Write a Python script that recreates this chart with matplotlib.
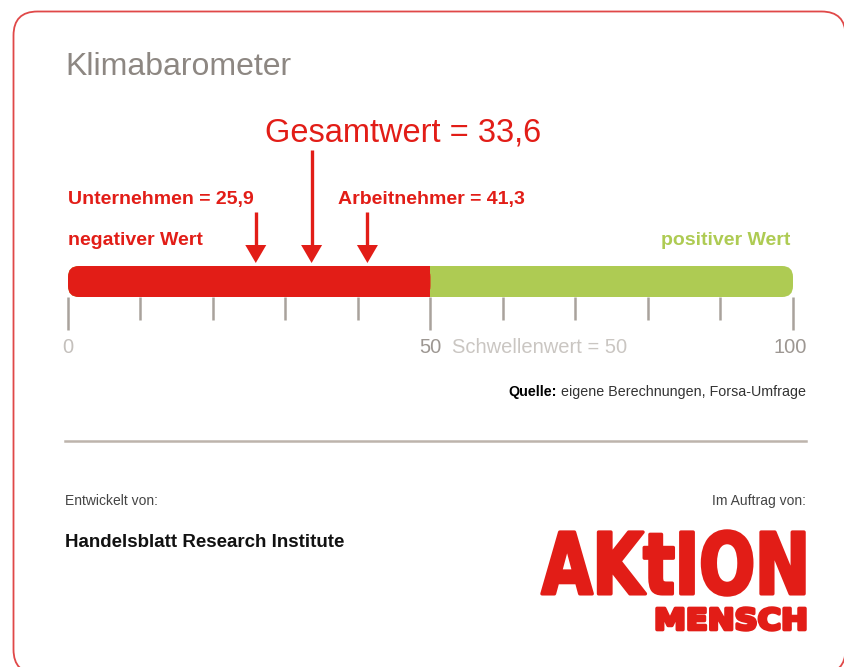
"""Klimabarometer: Gesamtwert, Unternehmen und Arbeitnehmer auf einer 0-100 Skala."""
import matplotlib
matplotlib.use("Agg")
import matplotlib.pyplot as plt
from matplotlib.patches import FancyBboxPatch, PathPatch, Polygon
from matplotlib.textpath import TextPath
from matplotlib.font_manager import FontProperties
from matplotlib.transforms import Affine2D

plt.rcParams["font.family"] = ["Liberation Sans", "DejaVu Sans"]

# --- data -------------------------------------------------------------
total_label = "Gesamtwert"
total_value = 33.6
group_labels = ["Unternehmen", "Arbeitnehmer"]
group_values = [25.9, 41.3]
threshold = 50
scale_min, scale_max = 0, 100
tick_values = list(range(0, 101, 10))
major_ticks = [0, 50, 100]

RED = "#e21d17"
GREEN = "#aecb53"
TICK = "#a9a29c"
W, H = 845, 667


def fmt(v):
    return f"{v:.1f}".replace(".", ",")


fig = plt.figure(figsize=(W / 100, H / 100), dpi=100)

# background axes in pixel coordinates (frame, texts, logo)
bg = fig.add_axes([0, 0, 1, 1])
bg.set_xlim(0, W)
bg.set_ylim(H, 0)
bg.axis("off")

bg.add_patch(FancyBboxPatch((13.5, 11.5), 832, 662,
                            boxstyle="round,pad=0,rounding_size=24",
                            fc="white", ec="#e04848", lw=1.3))

bg.text(65, 75, "Klimabarometer", fontsize=23, color="#8d8782", va="baseline")
bg.text(265, 141, f"{total_label} = {fmt(total_value)}", fontsize=23.5,
        color=RED, va="baseline")
bg.text(68, 204, f"{group_labels[0]} = {fmt(group_values[0])}", fontsize=14,
        fontweight="bold", color=RED, va="baseline")
bg.text(338, 204, f"{group_labels[1]} = {fmt(group_values[1])}", fontsize=14,
        fontweight="bold", color=RED, va="baseline")
bg.text(68, 245, "negativer Wert", fontsize=14, fontweight="bold",
        color=RED, va="baseline")
bg.text(790, 245, "positiver Wert", fontsize=14, fontweight="bold",
        color=GREEN, va="baseline", ha="right")

# --- scale axes: x in scale units, y in pixels ---------------------------
x0, x1 = 68, 793
ax = fig.add_axes([x0 / W, 0, (x1 - x0) / W, 1])
ax.set_xlim(scale_min, scale_max)
ax.set_ylim(H, 0)
ax.axis("off")
px = (x1 - x0) / (scale_max - scale_min)  # pixels per scale unit

bar_top, bar_h = 266, 31
r = 1.5
ax.add_patch(FancyBboxPatch((scale_min, bar_top), scale_max - scale_min, bar_h,
                            boxstyle=f"round,pad=0,rounding_size={r}",
                            mutation_aspect=px, fc=GREEN, ec="none"))
ax.add_patch(FancyBboxPatch((scale_min, bar_top), threshold - scale_min, bar_h,
                            boxstyle=f"round,pad=0,rounding_size={r}",
                            mutation_aspect=px, fc=RED, ec="none"))
ax.barh(bar_top + bar_h / 2, 5, left=threshold - 5, height=bar_h,
        color=RED, linewidth=0)

for t in tick_values:
    bottom = 330 if t in major_ticks else 320
    ax.plot([t, t], [bar_top + bar_h, bottom], color=TICK, lw=1.8,
            solid_capstyle="butt", clip_on=False)

ax.text(0, 353, "0", fontsize=14.5, color="#c4c0bc", ha="center", va="baseline")
ax.text(threshold, 353, str(threshold), fontsize=14.5, color="#9d9792",
        ha="center", va="baseline")
ax.text(scale_max - 0.4, 353, str(scale_max), fontsize=14.5, color="#9d9792",
        ha="center", va="baseline")
bg.text(452, 353, f"Schwellenwert = {threshold}", fontsize=14.5,
        color="#cac6c2", va="baseline")

# arrows
head_w = 10.5 / px
arrow_vals = [group_values[0], total_value, group_values[1]]
arrow_tops = [212, 150, 212]
for v, top in zip(arrow_vals, arrow_tops):
    ax.plot([v, v], [top, 246], color=RED, lw=2.4, solid_capstyle="butt")
    ax.add_patch(Polygon([(v - head_w, 245), (v + head_w, 245), (v, 263)],
                         closed=True, fc=RED, ec="none"))

# --- footer -------------------------------------------------------------
rest = bg.text(806, 396, " eigene Berechnungen, Forsa-Umfrage", fontsize=10.3,
               color="#333333", ha="right", va="baseline")
fig.canvas.draw()
bb = rest.get_window_extent()
x_left = bg.transData.inverted().transform((bb.x0, bb.y0))[0]
bg.text(x_left, 396, "Quelle:", fontsize=10.3, fontweight="bold",
        color="black", ha="right", va="baseline")

bg.plot([65, 806], [441, 441], color="#bdb4ac", lw=1.8)

bg.text(65, 505, "Entwickelt von:", fontsize=10, color="#444444", va="baseline")
bg.text(806, 505, "Im Auftrag von:", fontsize=10, color="#444444",
        ha="right", va="baseline")
bg.text(65, 547, "Handelsblatt Research Institute", fontsize=13.5,
        fontweight="bold", color="#111111", va="baseline")


def logo_word(word, box):
    """Draw a word as a path stretched into box (x0, y0, x1, y1) in pixels."""
    fp = FontProperties(family="DejaVu Sans", weight="bold")
    path = TextPath((0, 0), word, size=100, prop=fp)
    ext = path.get_extents()
    bx0, by0, bx1, by1 = box
    sx = (bx1 - bx0) / ext.width
    sy = (by1 - by0) / ext.height
    tr = (Affine2D().translate(-ext.x0, -ext.y0).scale(sx, -sy)
          .translate(bx0, by1))
    bg.add_patch(PathPatch(tr.transform_path(path), fc=RED, ec=RED, lw=2.5,
                           joinstyle="round"))


logo_word("AKtION", (542, 531, 804, 595))
logo_word("MENSCH", (657, 608, 805, 630))

fig.savefig("out.png", dpi=100)
